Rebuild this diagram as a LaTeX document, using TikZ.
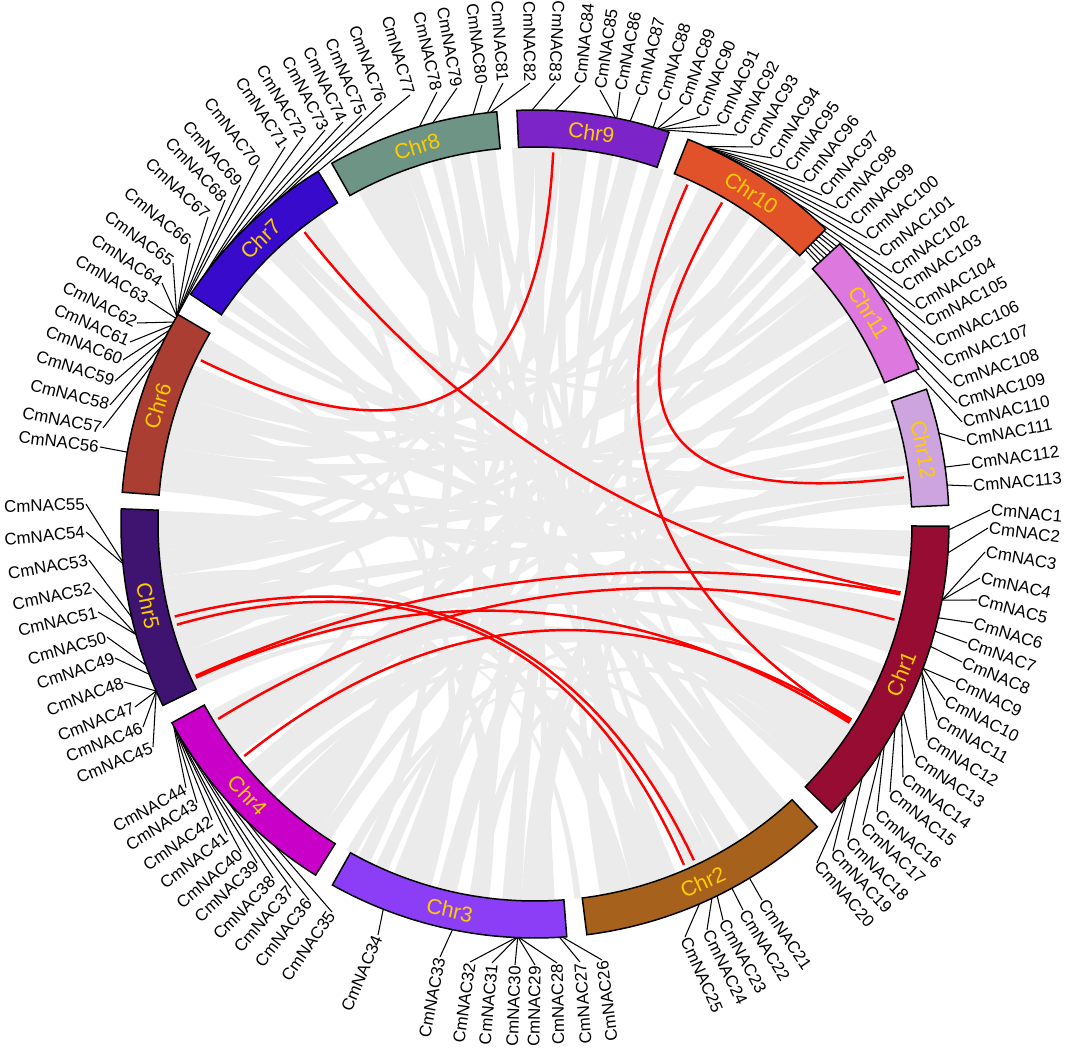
\documentclass[tikz,border=0pt]{standalone}
\usepackage{fontspec}
\setmainfont{Liberation Sans}
\definecolor{c1}{RGB}{150,12,50}
\definecolor{c2}{RGB}{166,98,28}
\definecolor{c3}{RGB}{140,62,246}
\definecolor{c4}{RGB}{200,0,200}
\definecolor{c5}{RGB}{62,20,112}
\definecolor{c6}{RGB}{170,62,50}
\definecolor{c7}{RGB}{56,10,204}
\definecolor{c8}{RGB}{110,148,134}
\definecolor{c9}{RGB}{124,36,200}
\definecolor{c10}{RGB}{226,82,42}
\definecolor{c11}{RGB}{220,120,222}
\definecolor{c12}{RGB}{205,164,222}
\definecolor{chrgold}{RGB}{255,204,0}
\definecolor{ribcol}{RGB}{235,235,235}
\definecolor{linkred}{RGB}{255,0,0}
\newcommand{\rib}[4]{\fill[ribbon] (#1:377) arc[start angle=#1, end angle=#2, radius=377] .. controls (#2:125.7) and (#3:125.7) .. (#3:377) arc[start angle=#3, end angle=#4, radius=377] .. controls (#4:125.7) and (#1:125.7) .. cycle;}
\newcommand{\rlink}[3]{\coordinate (#1a) at (#2:372); \coordinate (#1b) at (#3:372); \draw[redlink] (#1a) .. controls (#2:124) and (#3:124) .. (#1b);}
\newcommand{\chrom}[5]{\filldraw[chrbox, fill=#4] (#2:414) arc[start angle=#2, end angle=#3, radius=414] -- (#3:377) arc[start angle=#3, end angle=#2, radius=377] -- cycle;
 \node[chrlab, rotate=#5] (#1) at ({(#2+#3)/2}:395.5) {#1};}
\newcommand{\gl}[6]{\coordinate (p#1) at (#2:414); \node[glab, anchor=#6, rotate=#5] (g#1) at (#3,#4) {CmNAC#1}; \draw[leader] (p#1) -- (g#1.#6);}
\begin{document}
\begin{tikzpicture}[x=0.02cm,y=0.02cm,
  chrbox/.style={draw=black, line width=0.85pt, line join=miter},
  chrlab/.style={text=chrgold, font=\fontsize{12.2}{14}\selectfont, inner sep=0pt},
  glab/.style={font=\fontsize{9.6}{11}\selectfont, inner sep=0.5pt},
  leader/.style={line width=0.6pt, draw=black},
  redlink/.style={line width=1.4pt, draw=linkred},
  ribbon/.style={fill=ribcol}]
\useasboundingbox (-535,-524) rectangle (530,524);
% grey synteny ribbons
\rib{100}{103}{-60}{-57}
\rib{108}{110}{-70}{-68}
\rib{112}{115}{-52}{-49}
\rib{97}{99}{-100}{-98}
\rib{104}{106}{-110}{-107}
\rib{114}{117}{-20}{-17}
\rib{96}{98}{-38}{-36}
\rib{74}{76}{-95}{-92}
\rib{82}{85}{-112}{-109}
\rib{88}{90}{-88.5}{-87}
\rib{78}{80}{-75}{-72}
\rib{86}{88}{-130}{-127}
\rib{50}{53}{-105}{-102}
\rib{62}{64}{-115}{-113}
\rib{55}{58}{-140}{-137}
\rib{47}{49}{-170}{-167}
\rib{25}{28}{-92}{-89}
\rib{30}{33}{-125}{-123}
\rib{37}{40}{-145}{-142}
\rib{34}{36}{-175}{-172}
\rib{23}{25}{160}{163}
\rib{40}{42}{168}{171}
\rib{5}{8}{-160}{-157}
\rib{12}{15}{-179}{-176}
\rib{16}{18}{152}{154}
\rib{3}{5}{-133}{-130}
\rib{-5}{-2}{-168}{-165}
\rib{-10}{-7}{-181}{-178}
\rib{-25}{-22}{-158}{-155}
\rib{-3}{-1}{170}{173}
\rib{-18}{-15}{155}{158}
\rib{-30}{-27}{125}{128}
\rib{-42}{-40}{140}{142}
\rib{-35}{-32}{-140}{-136}
\rib{-40}{-38}{-100}{-98}
\rib{-55}{-52}{132}{135}
\rib{-65}{-62}{162}{165}
\rib{-78}{-75}{-172}{-170}
\rib{-80}{-78}{28}{30}
\rib{-118}{-116}{138}{140}
\rib{-108}{-106}{150.5}{152}
\rib{-90}{-88}{10}{12}
\rib{-128}{-125}{110}{113}
\rib{-146}{-143}{172}{175}
\rib{-163}{-160}{125}{127}
\rib{-176}{-174}{90}{92}
\rib{157}{160}{60}{63}
\rib{165}{168}{75}{77}
\rib{130}{132}{50}{52}
\rib{143}{145}{6}{8}
\rib{116}{118}{35}{37}
\rib{101}{103}{-180}{-178}
\rib{-50}{-48}{66}{68}
\rib{-71}{-69}{84}{86}
\rib{-43.5}{-42}{-50}{-48}
\rib{-60}{-58}{-118}{-117}
\rib{-38}{-35}{-150}{-147}
\rib{-15}{-12}{-148}{-145}
\rib{-73}{-70}{-150}{-148}
\rib{-100}{-97}{-165}{-162}
\rib{92}{93.5}{-66}{-64.5}
\rib{70}{72}{-80}{-78.5}
\rib{44}{46}{-110}{-108.5}
\rib{20}{22}{-140}{-138.5}
\rib{-28}{-26.5}{-120}{-118.5}
\rib{-52}{-50.5}{-135}{-133.5}
\rib{-84}{-83}{-155}{-154}
\rib{-20}{-18.5}{178}{179.5}
\rib{9}{10.5}{146}{147.5}
\rib{60}{61.5}{-62}{-60.5}
% red links
\rlink{ra}{87.2}{153.9}
\rlink{rb}{128.3}{-10.6}
\rlink{rc}{65.8}{-32}
\rlink{rd}{59.8}{7.2}
\rlink{re}{-164.3}{-66.4}
\rlink{rf}{-165.6}{-64.7}
\rlink{rg}{-155.9}{-10.9}
\rlink{rh}{-155.6}{-32.3}
\rlink{ri}{-148.4}{-14.9}
\rlink{rj}{-141.4}{-31.7}
% gene labels
\gl{1}{-0.8}{455}{14}{-5}{west}
\gl{2}{-4.0}{453}{-4}{-7.3}{west}
\gl{3}{-10.6}{450}{-28}{-9.6}{west}
\gl{4}{-10.6}{445}{-54}{-12}{west}
\gl{5}{-10.6}{442}{-76}{-14.5}{west}
\gl{6}{-13.1}{438}{-99}{-17}{west}
\gl{7}{-15.0}{432}{-119}{-19.5}{west}
\gl{8}{-17.2}{427}{-138}{-22}{west}
\gl{9}{-20.4}{420}{-158}{-24.5}{west}
\gl{10}{-20.4}{410}{-176}{-27}{west}
\gl{11}{-20.9}{402}{-196}{-29.3}{west}
\gl{12}{-20.9}{392}{-216}{-31.6}{west}
\gl{13}{-27.1}{380}{-234}{-33.9}{west}
\gl{14}{-27.7}{368}{-253}{-36.2}{west}
\gl{15}{-29.6}{355}{-268}{-38.5}{west}
\gl{16}{-32.5}{342}{-288}{-40.8}{west}
\gl{17}{-33.3}{328}{-301}{-43}{west}
\gl{18}{-37.8}{313}{-316}{-45}{west}
\gl{19}{-41.2}{298}{-327}{-46.8}{west}
\gl{20}{-41.2}{282}{-339}{-48.5}{west}
\gl{21}{-58.8}{227}{-376}{-56}{west}
\gl{22}{-61.6}{208}{-386}{-58.5}{west}
\gl{23}{-63.9}{188}{-396}{-61.4}{west}
\gl{24}{-64.7}{172}{-406}{-64}{west}
\gl{25}{-66.6}{150}{-413}{-66}{west}
\gl{26}{-86.2}{67}{-436}{97}{east}
\gl{27}{-86.6}{45}{-438}{94}{east}
\gl{28}{-92.2}{22}{-439}{91}{east}
\gl{29}{-92.3}{0}{-441}{89}{east}
\gl{30}{-92.4}{-20}{-441}{88}{east}
\gl{31}{-92.5}{-43}{-439}{85}{east}
\gl{32}{-92.6}{-65}{-438}{82}{east}
\gl{33}{-101.5}{-95}{-433}{79}{east}
\gl{34}{-111.5}{-157}{-411}{67}{east}
\gl{35}{-149.2}{-203}{-388}{55}{east}
\gl{36}{-149.4}{-226}{-376}{52}{east}
\gl{37}{-149.6}{-244}{-364}{49}{east}
\gl{38}{-149.8}{-262}{-354}{46}{east}
\gl{39}{-150.0}{-278}{-339}{43}{east}
\gl{40}{-150.2}{-294}{-328}{40.5}{east}
\gl{41}{-150.3}{-308}{-311}{37.5}{east}
\gl{42}{-150.5}{-323}{-296}{35}{east}
\gl{43}{-150.6}{-338}{-279}{32}{east}
\gl{44}{-150.8}{-349}{-264}{29}{east}
\gl{45}{-156.2}{-382}{-223}{22.5}{east}
\gl{46}{-156.2}{-392}{-203}{21.5}{east}
\gl{47}{-156.2}{-400}{-183}{21}{east}
\gl{48}{-156.2}{-411}{-158}{20.5}{east}
\gl{49}{-158.7}{-420}{-134}{18.5}{east}
\gl{50}{-160.1}{-428}{-113}{16}{east}
\gl{51}{-164.5}{-437}{-88}{13.5}{east}
\gl{52}{-164.5}{-442}{-64}{11.5}{east}
\gl{53}{-167.0}{-446}{-36}{9.5}{east}
\gl{54}{-174.5}{-449}{-8}{5.5}{east}
\gl{55}{-174.7}{-449}{20}{2}{east}
\gl{56}{170}{-435}{77}{-7}{east}
\gl{57}{157.1}{-432}{96}{-11}{east}
\gl{58}{154.7}{-425}{119}{-14.5}{east}
\gl{59}{153.2}{-420}{143}{-17.5}{east}
\gl{60}{152.1}{-412}{164}{-21}{east}
\gl{61}{151.3}{-405}{182}{-24}{east}
\gl{62}{150.8}{-398}{201}{-27}{east}
\gl{63}{150.2}{-387}{224}{-30}{east}
\gl{64}{149.9}{-373}{241}{-33}{east}
\gl{65}{149.9}{-362}{261}{-36}{east}
\gl{66}{149.9}{-345}{281}{-39.2}{east}
\gl{67}{149.9}{-327}{307}{-43.2}{east}
\gl{68}{149.9}{-310}{324}{-46.3}{east}
\gl{69}{149.9}{-295}{339}{-49}{east}
\gl{70}{149.9}{-277}{359}{-52.3}{east}
\gl{71}{143}{-250}{377}{-56.4}{east}
\gl{72}{142}{-232}{387}{-59}{east}
\gl{73}{141}{-210}{394}{-62}{east}
\gl{74}{140}{-192}{402}{-64.5}{east}
\gl{75}{139.5}{-173}{409}{-67.1}{east}
\gl{76}{139}{-153}{421}{-70}{east}
\gl{77}{138}{-125}{429}{-73.8}{east}
\gl{78}{106.2}{-98}{432}{-77.2}{east}
\gl{79}{104.3}{-78}{436}{-79.9}{east}
\gl{80}{98.6}{-53}{439}{-83.1}{east}
\gl{81}{96.6}{-32}{441}{-85.8}{east}
\gl{82}{96.2}{-5}{441}{-89.4}{east}
\gl{83}{90.4}{20}{441}{-92.6}{east}
\gl{84}{87.2}{45}{439}{84.1}{west}
\gl{85}{78.8}{65}{434}{81.5}{west}
\gl{86}{78.6}{85}{432}{78.9}{west}
\gl{87}{76.7}{105}{427}{76.2}{west}
\gl{88}{73.4}{127}{422}{73.3}{west}
\gl{89}{72.8}{148}{417}{70.5}{west}
\gl{90}{72.6}{165}{407}{67.9}{west}
\gl{91}{72.4}{185}{399}{65.1}{west}
\gl{92}{72.2}{202}{389}{62.6}{west}
\gl{93}{65.8}{218}{377}{60}{west}
\gl{94}{65.7}{237}{366}{57.1}{west}
\gl{95}{65.6}{253}{354}{54.4}{west}
\gl{96}{65.5}{270}{342}{51.7}{west}
\gl{97}{65.4}{287}{329}{48.9}{west}
\gl{98}{65.3}{302}{316}{46.3}{west}
\gl{99}{65.2}{317}{301}{43.5}{west}
\gl{100}{65.1}{332}{286}{40.7}{west}
\gl{101}{65.0}{345}{269}{37.9}{west}
\gl{102}{64.9}{357}{252}{35.2}{west}
\gl{103}{64.8}{368}{236}{32.7}{west}
\gl{104}{64.7}{380}{217}{29.7}{west}
\gl{105}{64.6}{390}{201}{27.3}{west}
\gl{106}{64.5}{400}{181}{24.3}{west}
\gl{107}{64.4}{408}{161}{21.5}{west}
\gl{108}{64.3}{417}{141}{18.7}{west}
\gl{109}{64.2}{422}{121}{16}{west}
\gl{110}{64.1}{427}{102}{13.4}{west}
\gl{111}{12.7}{430}{83}{10.9}{west}
\gl{112}{7.9}{435}{60}{7.9}{west}
\gl{113}{5.4}{437}{38}{5}{west}
% chromosomes
\chrom{Chr1}{-0.3}{-44.2}{c1}{67.75}
\chrom{Chr2}{-47.0}{-82.8}{c2}{25.1}
\chrom{Chr3}{-85.6}{-119.3}{c3}{-12.45}
\chrom{Chr4}{-122.0}{-151.3}{c4}{-46.65}
\chrom{Chr5}{-154.0}{-182.1}{c5}{-78.05}
\chrom{Chr6}{-184.4}{-210.4}{c6}{72.6}
\chrom{Chr7}{-213.7}{-238.4}{c7}{43.95}
\chrom{Chr8}{-240.6}{-264.7}{c8}{17.35}
\chrom{Chr9}{-267.5}{-288.9}{c9}{-8.2}
\chrom{Chr10}{-291.7}{-314.6}{c10}{-33.15}
\chrom{Chr11}{-317.4}{-338.0}{c11}{-57.7}
\chrom{Chr12}{-341.0}{-357.4}{c12}{-79.2}
\end{tikzpicture}
\end{document}
